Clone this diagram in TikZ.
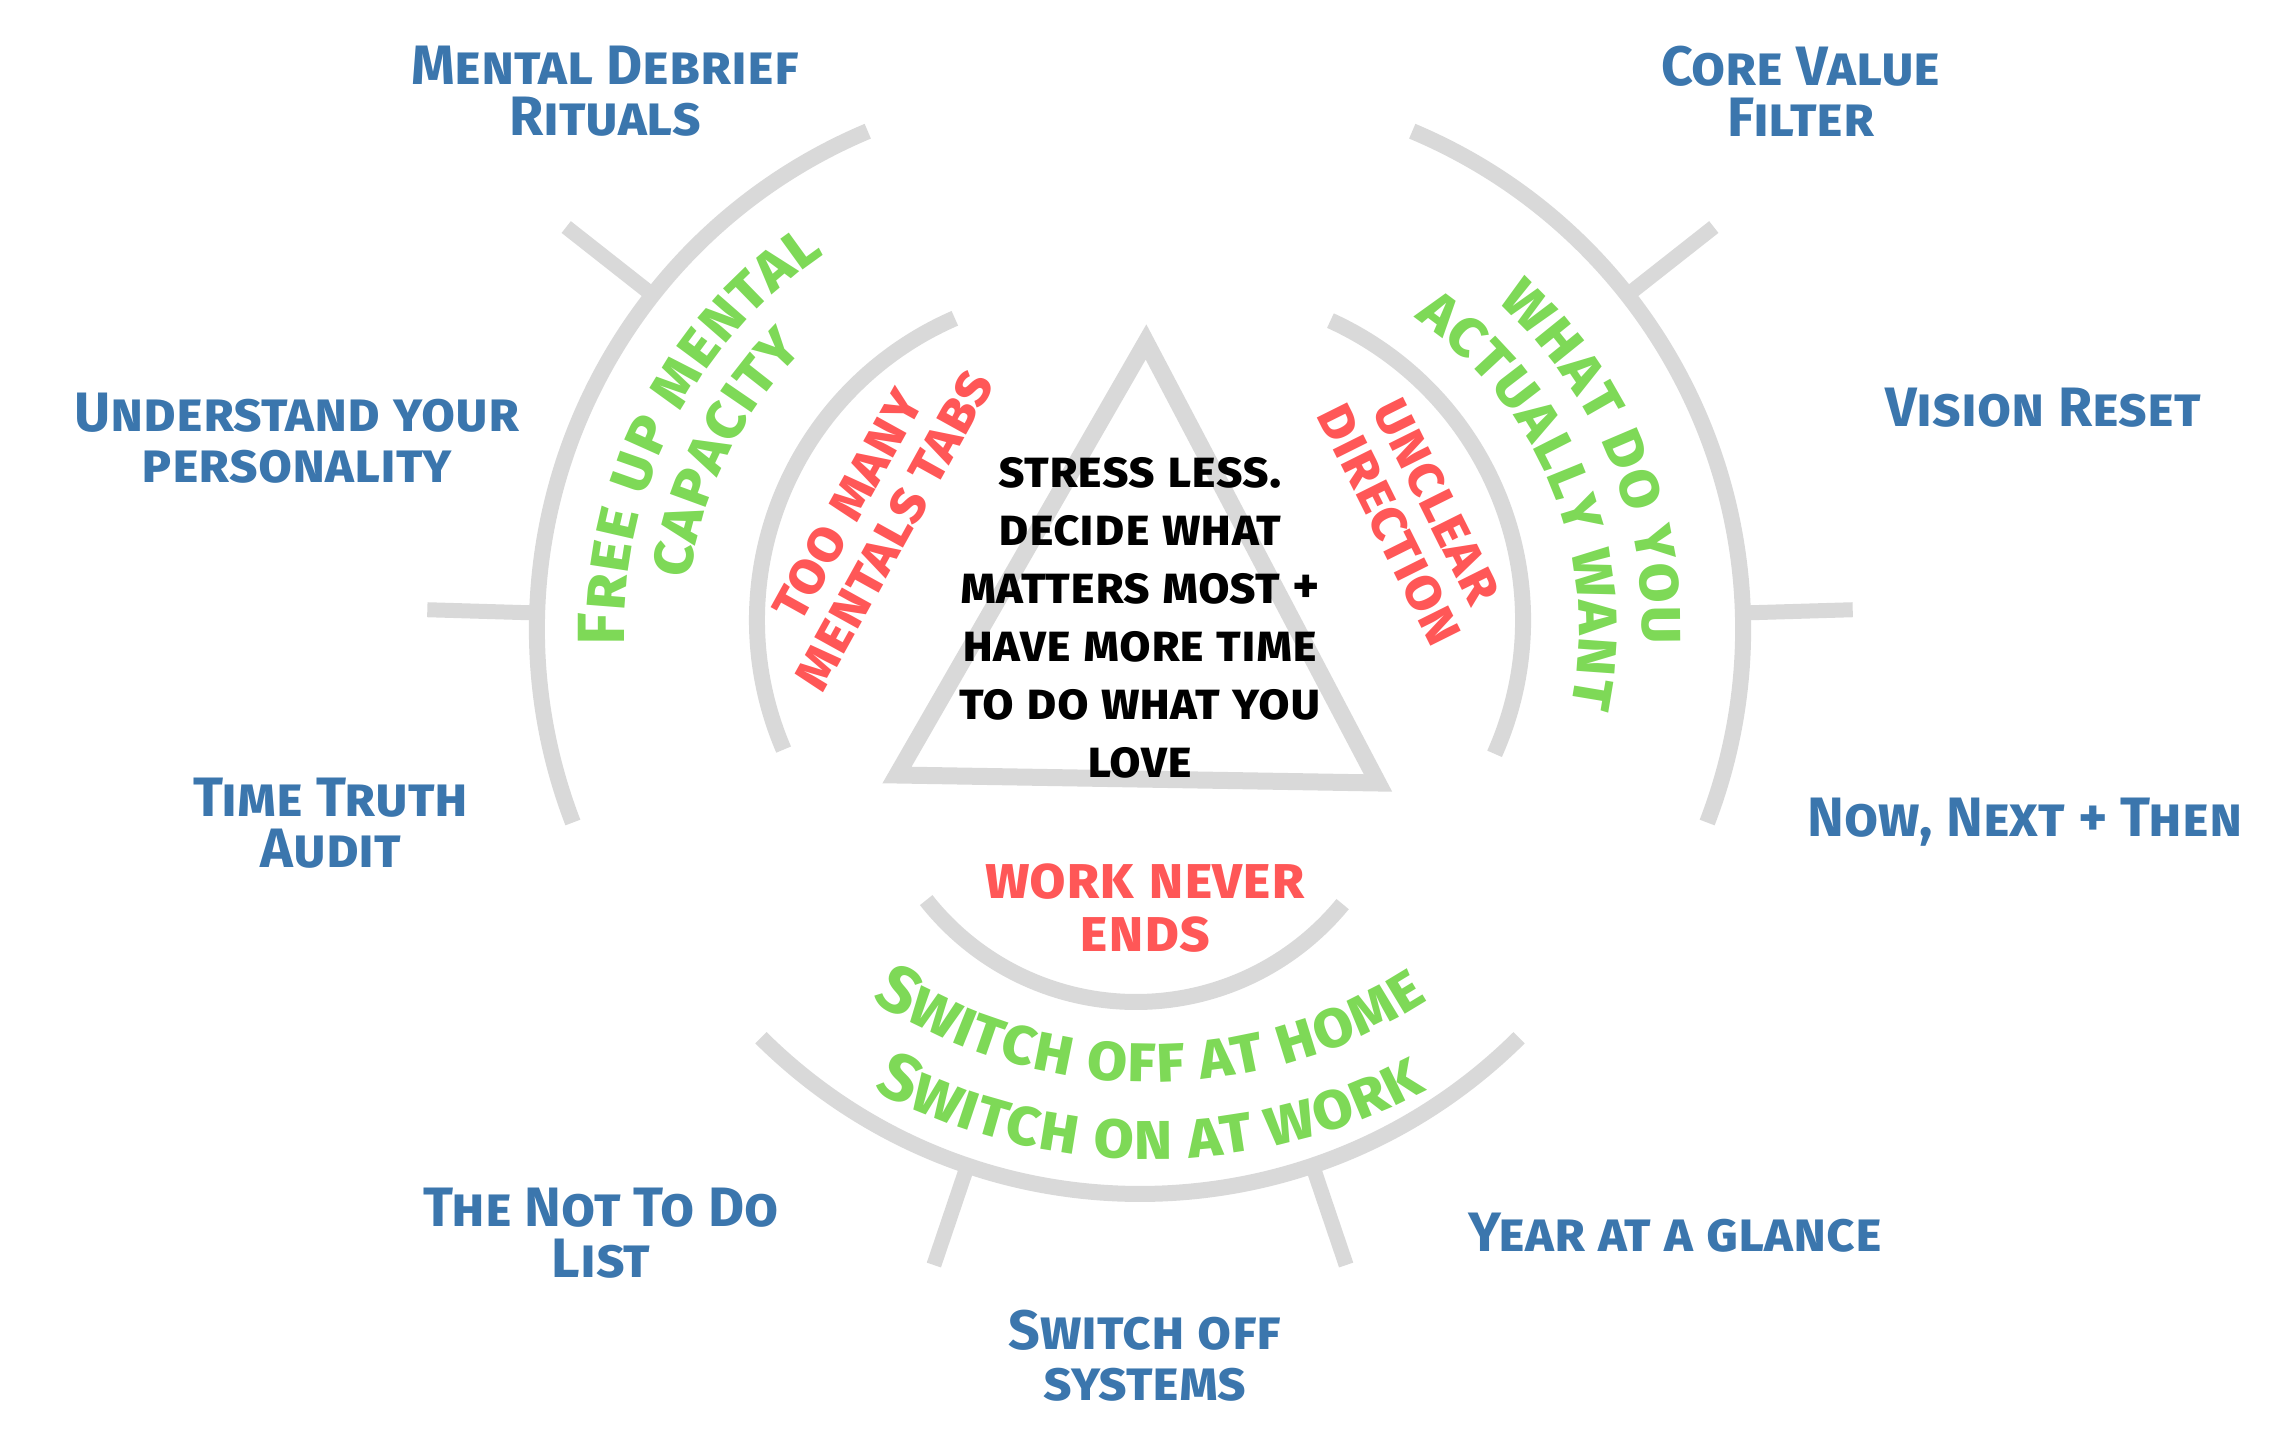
\documentclass[tikz,border=0pt]{standalone}
\usepackage{fontspec}
\newfontfamily\markfont{Fira Sans}[UprightFont={* Bold}, Letters=SmallCaps]
\usetikzlibrary{decorations.text}
\definecolor{colBlue}{HTML}{3B76AD}
\definecolor{colGreen}{HTML}{7ED957}
\definecolor{colRed}{HTML}{FF5757}
\definecolor{colRing}{HTML}{D9D9D9}

\begin{document}
\begin{tikzpicture}[
  every node/.style={align=center, inner sep=0pt},
  ring/.style={draw=colRing, line width=0.16cm, line cap=butt},
  tick/.style={draw=colRing, line width=0.15cm, line cap=butt},
  tool/.style={text=colBlue, font=\markfont\fontsize{15.8}{14.5}\selectfont},
  pain/.style={text=colRed, font=\markfont\fontsize{17}{15}\selectfont},
  core/.style={text=black, font=\markfont\fontsize{14.7}{16.5}\selectfont},
  gain/.style={decorate, decoration={text along path, text align=center,
      text color=colGreen, text={|\markfont\fontsize{19}{19}\selectfont|#1}}},
]
\useasboundingbox (0,0) rectangle (22.87,14.40);

%% ============================================================
%% Centres of the three arc groups
%% ============================================================
\coordinate (cL)  at (10.77,8.11);
\coordinate (cLi) at (10.86,8.20);
\coordinate (cR)  at (12.03,8.11);
\coordinate (cRi) at (11.94,8.20);
\coordinate (cB)  at (11.40,7.84);
\coordinate (cBi) at (11.36,7.05);
\coordinate (cW)  at (11.50,8.70);

%% ============================================================
%% Triangle + core message
%% ============================================================
\coordinate (apex) at (11.46,10.98);
\coordinate (baseL) at (8.97,6.65);
\coordinate (baseR) at (13.78,6.57);
\draw[ring, line width=0.17cm, line join=miter] (apex) -- (baseL) -- (baseR) -- cycle;

\node[core] (goal) at (11.40,8.225)
  {stress less.\\decide what\\matters most +\\have more time\\to do what you\\love};

%% ============================================================
%% Inner arcs - pain points
%% ============================================================
\draw[ring] ([shift={(113.5:3.29)}]cLi) arc[start angle=113.5, end angle=203.2, radius=3.29];
\draw[ring] ([shift={(65.5:3.29)}]cRi) arc[start angle=65.5, end angle=-24, radius=3.29];
\draw[ring] ([shift={(218.2:2.67)}]cBi) arc[start angle=218.2, end angle=320.7, radius=2.67];

\node[pain, rotate=61]    (tabs)    at (8.71,9.22)  {too many\\mentals tabs};
\node[pain, rotate=-63.5] (unclear) at (14.13,9.27) {unclear\\direction};
\node[pain]               (ends)    at (11.45,5.32) {work never\\ends};

%% ============================================================
%% Outer arcs with ticks - outcomes
%% ============================================================
\draw[ring] ([shift={(112.8:5.40)}]cL) arc[start angle=112.8, end angle=201, radius=5.40];
\draw[ring] ([shift={(67.2:5.40)}]cR) arc[start angle=67.2, end angle=-21, radius=5.40];
\draw[ring] ([shift={(225.2:5.38)}]cB) arc[start angle=225.2, end angle=314.8, radius=5.38];

\foreach \a in {141.8, 178.3}
  \draw[tick] ([shift={(\a:5.40)}]cL) -- ([shift={(\a:6.50)}]cL);
\foreach \a in {38.2, 1.7}
  \draw[tick] ([shift={(\a:5.40)}]cR) -- ([shift={(\a:6.50)}]cR);
\foreach \a in {251.3, 288.7}
  \draw[tick] ([shift={(\a:5.38)}]cB) -- ([shift={(\a:6.43)}]cB);

\path[gain={Free up mental}] ([shift={(213:4.52)}]cL) arc[start angle=213, end angle=93, radius=4.52];
\path[gain={capacity}]       ([shift={(214:3.90)}]cL) arc[start angle=214, end angle=93, radius=3.90];
\path[gain={what do you}]    ([shift={(83:4.40)}]cR) arc[start angle=83, end angle=-37, radius=4.40];
\path[gain={actually want}]  ([shift={(82:3.76)}]cR) arc[start angle=82, end angle=-38, radius=3.76];
\path[gain={Switch off at home}] ([shift={(210:5.12)}]cW) arc[start angle=210, end angle=330, radius=5.12];
\path[gain={Switch on at work}]  ([shift={(210:5.89)}]cW) arc[start angle=210, end angle=330, radius=5.89];

%% ============================================================
%% Tools around the outside
%% ============================================================
\node[tool] (debrief) at (6.05,13.485) {Mental Debrief\\Rituals};
\node[tool] (values)  at (18.01,13.485) {Core Value\\Filter};
\node[tool] (persona) at (2.97,10.015) {Understand your\\personality};
\node[tool] (vision)  at (20.43,10.32) {Vision Reset};
\node[tool] (audit)   at (3.31,6.165)  {Time Truth\\Audit};
\node[tool] (nownext) at (20.25,6.18)  {Now, Next + Then};
\node[tool] (nottodo) at (6.01,2.07)   {The Not To Do\\List};
\node[tool] (glance)  at (16.75,2.07)  {Year at a glance};
\node[tool] (systems) at (11.45,0.84)  {Switch off\\systems};

\end{tikzpicture}
\end{document}
